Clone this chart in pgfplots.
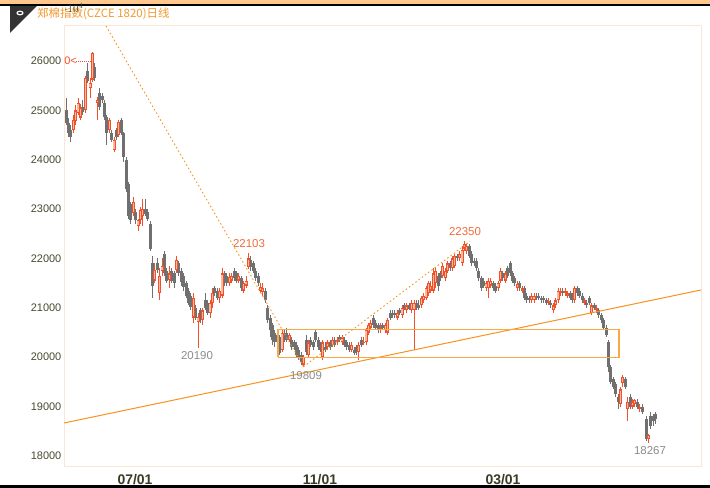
\documentclass[border=0pt]{standalone}
\usepackage{fontspec}
\setmainfont{Liberation Sans}
\newfontfamily\cjk{Noto Sans CJK SC}
\usepackage{pgfplots}
\usepackage{pgfplotstable}
\pgfplotsset{compat=1.18}
\definecolor{candlegray}{HTML}{707070}
\definecolor{upred}{HTML}{F0502A}
\definecolor{upfill}{HTML}{FBB9A2}
\definecolor{dashorange}{HTML}{F7931E}
\definecolor{trendorange}{HTML}{F7931E}
\definecolor{boxorange}{HTML}{F9A848}
\definecolor{framec}{HTML}{FDE5D2}
\definecolor{tickc}{HTML}{4A4A30}
\definecolor{titlec}{HTML}{F39A2E}
\definecolor{annred}{HTML}{F26B3A}
\definecolor{anngray}{HTML}{8C8C8C}
\definecolor{topbar}{HTML}{FFC78E}
\pgfplotsset{
  candle/.style={draw=none, mark=none, restrict y to domain=17000:27000,
    error bars/y dir=both, error bars/y explicit, error bars/error mark=none},
}
\pgfplotstableread{
x o h l c
66 25000 25250 24700 24750
68.4 24750 24850 24450 24550
70.8 24600 24700 24350 24450
73.2 24600 24900 24550 24800
75.6 24780 25100 24700 25000
78 24950 25250 24900 25150
80.4 24850 25120 24800 25050
82.8 25070 25200 24900 24970
85.2 25000 25700 24950 25650
87.6 25800 25950 25550 25600
90 25450 25650 25250 25550
92.4 25620 26180 25580 26160
94.8 25870 25950 25600 25660
97.2 25150 25280 24800 25210
99.6 25350 25450 25000 25060
102 25300 25350 25150 25200
104.4 25150 25200 24800 24860
106.8 24860 24900 24300 24540
109.2 24600 24850 24550 24800
111.6 24540 24600 24350 24400
114 24200 24450 24150 24400
116.4 24600 24650 24400 24460
118.8 24500 24800 24450 24760
121.2 24800 24850 24500 24540
123.6 24540 24560 23950 24050
126 24000 24050 23350 23400
128.4 23500 23550 22800 22850
130.8 23100 23150 22700 22780
133.2 22920 23250 22850 23140
135.6 22950 23000 22700 22780
138 22650 22800 22550 22780
140.4 22780 23050 22700 22980
142.8 22850 23200 22650 23000
145.2 23000 23200 22850 22900
147.6 22950 23000 22750 22800
150 22700 22750 22150 22200
152.4 21900 22050 21200 21450
154.8 21550 21900 21500 21770
157.2 21900 22000 21700 21770
159.6 21300 21800 21150 21650
162 21750 22000 21650 21850
164.4 22100 22150 21650 21700
166.8 21750 21800 21500 21550
169.2 21560 21850 21400 21700
171.6 21750 21800 21500 21550
174 21700 21750 21400 21500
176.4 21770 22050 21700 21970
178.8 21900 21950 21650 21700
181.2 21750 21800 21450 21520
183.6 21650 21700 21350 21420
186 21500 21550 21200 21250
188.4 21350 21400 21050 21100
190.8 21250 21300 20950 21020
193.2 20800 21300 20700 21200
195.6 21000 21050 20750 20800
198 20710 20900 20190 20810
200.4 20950 21000 20700 20750
202.8 20750 21000 20650 20950
205.2 21150 21300 20950 21000
207.6 21100 21150 20850 20900
210 20900 21150 20800 21100
212.4 21100 21400 21000 21300
214.8 21400 21450 21250 21300
217.2 21350 21400 21150 21200
219.6 21200 21400 21100 21350
222 21250 21800 21200 21700
224.4 21700 21750 21450 21500
226.8 21650 21700 21450 21500
229.2 21500 21700 21450 21620
231.6 21550 21700 21500 21650
234 21750 21800 21550 21600
236.4 21700 21750 21500 21550
238.8 21550 21700 21500 21650
241.2 21600 21650 21350 21400
243.6 21350 21550 21300 21500
246 21450 21650 21400 21550
248.4 21830 22103 21780 22000
250.8 21970 22050 21750 21830
253.2 21900 21950 21700 21750
255.6 21750 21800 21550 21600
258 21650 21700 21450 21500
260.4 21350 21500 21300 21420
262.8 21320 21500 21250 21400
265.2 21350 21400 21100 21150
267.6 21000 21050 20700 20750
270 20800 20850 20400 20550
272.4 20650 20700 20250 20350
274.8 20500 20550 20200 20300
277.2 20450 20500 20200 20300
279.6 20400 20450 20050 20080
282 20150 20550 20100 20500
284.4 20500 20550 20300 20350
286.8 20500 20600 20300 20350
289.2 20350 20500 20300 20450
291.6 20350 20400 20150 20200
294 20300 20350 20150 20200
296.4 20250 20300 20000 20050
298.8 20150 20200 19950 20000
301.2 20050 20100 19850 19900
303.6 19850 20050 19809 20000
306 20350 20450 20050 20100
308.4 20050 20350 20000 20300
310.8 20350 20400 20200 20250
313.2 20300 20350 20150 20200
315.6 20520 20570 20300 20350
318 20350 20400 20150 20200
320.4 20250 20300 20100 20150
322.8 20000 20350 19950 20300
325.2 20200 20300 20100 20150
327.6 20200 20350 20150 20300
330 20300 20350 20150 20200
332.4 20250 20400 20200 20350
334.8 20350 20400 20200 20250
337.2 20300 20400 20250 20350
339.6 20400 20450 20300 20350
342 20300 20450 20250 20400
344.4 20350 20400 20200 20250
346.8 20300 20350 20150 20200
349.2 20250 20300 20100 20150
351.6 20150 20300 20100 20250
354 20150 20200 20050 20080
356.4 20200 20250 20050 20100
358.8 20100 20300 19950 20250
361.2 20350 20400 20200 20250
363.6 20300 20400 20250 20300
366 20300 20600 20250 20550
368.4 20500 20700 20450 20650
370.8 20600 20750 20550 20700
373.2 20800 20850 20600 20650
375.6 20700 20750 20550 20600
378 20650 20700 20500 20550
380.4 20550 20700 20500 20600
382.8 20650 20700 20550 20600
385.2 20550 20700 20500 20650
387.6 20500 20800 20450 20750
390 20900 20950 20750 20800
392.4 20900 20950 20800 20850
394.8 20900 20950 20800 20850
397.2 20800 20950 20750 20900
399.6 20950 21000 20850 20900
402 20850 21050 20800 21000
404.4 21050 21100 20950 21000
406.8 20950 21100 20900 21050
409.2 21050 21100 20950 20980
411.6 20950 21150 20900 21100
414 20950 21150 20150 21100
416.4 21100 21150 20950 21000
418.8 21050 21150 20950 21000
421.2 21050 21250 21000 21200
423.6 21150 21300 21100 21250
426 21200 21450 21150 21400
428.4 21300 21550 21250 21500
430.8 21350 21550 21300 21450
433.2 21350 21800 21300 21700
435.6 21500 21800 21400 21750
438 21650 21700 21350 21450
440.4 21700 21750 21550 21600
442.8 21650 21900 21600 21850
445.2 21600 21800 21550 21750
447.6 21750 21950 21700 21900
450 21900 21950 21750 21800
452.4 21800 22050 21750 22000
454.8 21850 22100 21800 22050
457.2 22050 22100 21950 22000
459.6 22000 22150 21950 22100
462 21910 22250 21850 22170
464.4 22200 22350 22150 22300
466.8 22150 22300 22100 22250
469.2 22250 22300 22000 22050
471.6 22100 22150 21850 21900
474 21950 22000 21850 21900
476.4 21950 22000 21750 21800
478.8 21750 21800 21550 21600
481.2 21600 21650 21350 21400
483.6 21550 21600 21400 21450
486 21400 21550 21350 21500
488.4 21400 21600 21200 21550
490.8 21450 21600 21400 21550
493.2 21500 21550 21350 21400
495.6 21450 21500 21300 21350
498 21400 21550 21350 21500
500.4 21550 21800 21500 21750
502.8 21700 21750 21550 21600
505.2 21550 21750 21500 21700
507.6 21800 21850 21600 21650
510 21900 21950 21650 21700
512.4 21700 21750 21500 21550
514.8 21600 21650 21450 21500
517.2 21400 21550 21350 21480
519.6 21500 21550 21350 21400
522 21350 21450 21300 21400
524.4 21400 21450 21150 21200
526.8 21250 21300 21100 21150
529.2 21200 21250 21100 21150
531.6 21150 21300 21100 21250
534 21150 21300 21100 21250
536.4 21250 21300 21150 21200
538.8 21250 21300 21150 21200
541.2 21200 21250 21100 21150
543.6 21200 21250 21100 21150
546 21150 21200 21050 21100
548.4 21100 21200 21050 21130
550.8 21100 21150 21000 21050
553.2 20950 21100 20900 21050
555.6 21050 21200 21000 21150
558 21150 21400 21100 21350
560.4 21300 21400 21250 21350
562.8 21350 21400 21250 21300
565.2 21300 21400 21250 21350
567.6 21250 21350 21200 21300
570 21300 21350 21150 21200
572.4 21250 21300 21100 21150
574.8 21150 21450 21100 21400
577.2 21400 21450 21250 21300
579.6 21350 21400 21200 21250
582 21250 21300 21100 21150
584.4 21100 21200 21050 21150
586.8 21100 21150 21000 21050
589.2 21200 21250 21050 21100
591.6 20900 21100 20850 21050
594 21050 21100 20950 21000
596.4 20950 21050 20900 21000
598.8 20950 21000 20800 20850
601.2 20850 20900 20700 20750
603.6 20750 20800 20550 20600
606 20600 20650 20400 20450
608.4 20300 20350 19700 19800
610.8 19800 19850 19450 19500
613.2 19550 19600 19350 19400
615.6 19450 19500 19200 19250
618 19200 19250 18950 19100
620.4 19050 19400 19000 19350
622.8 19480 19650 19400 19600
625.2 19550 19600 19350 19400
627.6 18950 19200 18700 19100
630 19200 19250 18950 19000
632.4 19000 19150 18950 19100
634.8 19050 19150 19000 19130
637.2 19100 19150 18950 19000
639.6 18950 19050 18900 19000
642 19000 19050 18850 18900
646 18750 18800 18300 18350
648.4 18350 18450 18267 18420
650.8 18800 18900 18550 18600
653.2 18800 18850 18600 18700
655.6 18850 18900 18650 18750
}\data
\begin{document}
\begin{tikzpicture}[x=1bp,y=1bp]
\useasboundingbox (0,0) rectangle (710,488);
\fill[white] (0,0) rectangle (710,488);
\fill[topbar] (0,484) rectangle (710,488);
\fill[black] (0,482) rectangle (710,484);
\fill[black] (0,0) rectangle (710,3);
\fill[black!80] (10,482) -- (37,482) -- (10,455) -- cycle;
\fill[white] (20,475) ellipse [x radius=3.6, y radius=2.4];
\fill[black!80] (20,475) ellipse [x radius=2, y radius=1];
\node[anchor=west, inner sep=0pt, text=titlec, font=\cjk\fontsize{11.5}{12}\selectfont] at (37,474.5)
  {郑棉指数(CZCE 1820)日线};
\begin{axis}[
  at={(64bp,21bp)}, anchor=south west,
  scale only axis, width=637bp, height=441bp,
  xmin=64, xmax=701, ymin=17777, ymax=26708,
  axis line style={draw=framec, line width=1bp},
  xtick={135,320,503}, xticklabels={07/01,11/01,03/01},
  ytick={18000,19000,20000,21000,22000,23000,24000,25000,26000},
  yticklabels={18000,19000,20000,21000,22000,23000,24000,25000,26000},
  major tick length=0pt,
  yticklabel style={inner sep=0pt, xshift=-2.5bp, text=tickc, font=\fontsize{11}{12}\selectfont},
  xticklabel style={inner sep=0pt, yshift=-7bp, text=tickc!80!black, font=\fontsize{14}{14}\selectfont\bfseries},
]
% wicks (down, up)
\addplot[candle, error bars/error bar style={line width=1bp, draw=candlegray, solid}]
  table[x=x, y expr={(\thisrow{c}<\thisrow{o}) ? (\thisrow{h}+\thisrow{l})/2 : 99999}, y error expr={(\thisrow{h}-\thisrow{l})/2}] {\data};
\addplot[candle, error bars/error bar style={line width=1bp, draw=upred, solid}]
  table[x=x, y expr={(\thisrow{c}<\thisrow{o}) ? 99999 : (\thisrow{h}+\thisrow{l})/2}, y error expr={(\thisrow{h}-\thisrow{l})/2}] {\data};
% bodies
\addplot[candle, error bars/error bar style={line width=3bp, draw=candlegray, solid}]
  table[x=x, y expr={(\thisrow{c}<\thisrow{o}) ? (\thisrow{o}+\thisrow{c})/2 : 99999}, y error expr={max(abs(\thisrow{c}-\thisrow{o})/2,14)}] {\data};
\addplot[candle, error bars/error bar style={line width=3bp, draw=upred, solid}]
  table[x=x, y expr={(\thisrow{c}<\thisrow{o}) ? 99999 : (\thisrow{o}+\thisrow{c})/2}, y error expr={max(abs(\thisrow{c}-\thisrow{o})/2,14)}] {\data};
\addplot[candle, error bars/error bar style={line width=1.1bp, draw=upfill, solid}]
  table[x=x, y expr={(\thisrow{c}<\thisrow{o}) ? 99999 : (\thisrow{o}+\thisrow{c})/2}, y error expr={max(abs(\thisrow{c}-\thisrow{o})/2-25,0)}] {\data};
% dashed trend lines
\addplot[dashorange, line width=0.9bp, dash pattern=on 1.5bp off 2.5bp] coordinates {(106,26708) (303.6,19809)};
\addplot[dashorange, line width=0.9bp, dash pattern=on 1.5bp off 2.5bp] coordinates {(303.6,19809) (470,22350)};
% solid trend line
\addplot[trendorange, line width=1bp] coordinates {(64,18668) (701,21362)};
% box
\addplot[boxorange, line width=1.3bp] coordinates {(278,20000) (619,20000) (619,20567) (278,20567) (278,20000)};
% marker at top
\addplot[upred, line width=0.8bp, dash pattern=on 1bp off 1bp] coordinates {(76,26000) (92,26000)};
\node[text=upred, inner sep=0pt, font=\fontsize{11}{12}\selectfont] at (axis cs:70.5,26000) {0<};
% annotations
\node[text=annred, font=\fontsize{11.5}{12}\selectfont] at (axis cs:249,22293) {22103};
\node[text=annred, font=\fontsize{11.5}{12}\selectfont] at (axis cs:465,22536) {22350};
\node[text=anngray, font=\fontsize{11.5}{12}\selectfont] at (axis cs:197,20025) {20190};
\node[text=anngray, font=\fontsize{11.5}{12}\selectfont] at (axis cs:306,19620) {19809};
\node[text=anngray, font=\fontsize{11.5}{12}\selectfont] at (axis cs:650,18101) {18267};
\end{axis}
\end{tikzpicture}
\end{document}
